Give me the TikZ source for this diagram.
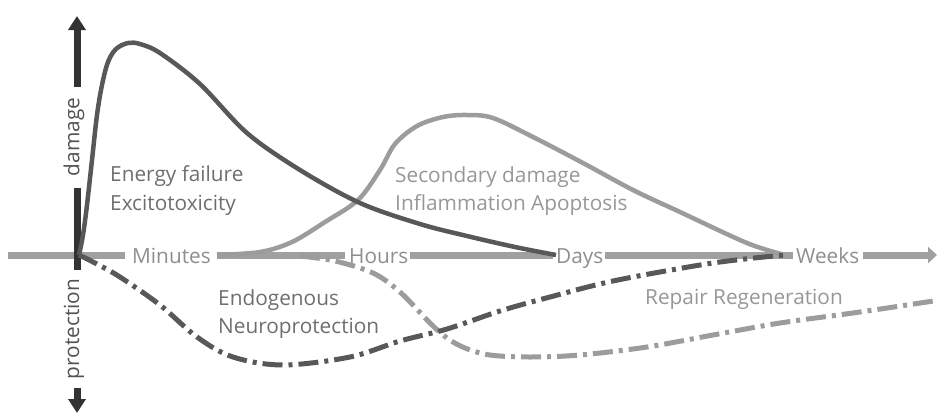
\documentclass[tikz,border=0pt]{standalone}
\usepackage{fontspec}
\setmainfont{Open Sans}
\usetikzlibrary{arrows.meta}
\definecolor{darkc}{HTML}{585858}
\definecolor{lightc}{HTML}{9C9C9C}
\definecolor{axisd}{HTML}{333333}
\definecolor{axisl}{HTML}{A0A0A0}
\definecolor{txtd}{HTML}{6E6E6E}
\definecolor{txtl}{HTML}{979797}
\definecolor{txtt}{HTML}{8E8E8E}
\begin{document}
\begin{tikzpicture}[x=1pt,y=-1pt,
  lbl/.style={inner sep=0pt,anchor=base west,font=\fontsize{20.8}{23}\selectfont},
  tlabel/.style={inner sep=0pt,font=\fontsize{20.8}{23}\selectfont,text=txtt},
  vlabel/.style={inner sep=0pt,rotate=90,font=\fontsize{20.8}{23}\selectfont,text=axisd!85},
  haxis/.style={draw=axisl,line width=7pt},
  vaxis/.style={draw=axisd,line width=7pt},
  solidc/.style={line width=4.5pt,line join=round},
  dashc/.style={line width=5pt,dash pattern=on 20pt off 6pt on 4pt off 6pt}]
\useasboundingbox (0,0) rectangle (937,413);
% time labels on horizontal axis
\node[tlabel,anchor=base west] (min) at (132,263) {Minutes};
\node[tlabel,anchor=base west] (hrs) at (349,263) {Hours};
\node[tlabel,anchor=base west] (days) at (556,263) {Days};
\node[tlabel,anchor=base west] (wks) at (796,263) {Weeks};
\coordinate (hstart) at (8,255);
\coordinate (hend) at (937,255);
% horizontal axis segments
\draw[haxis] (hstart) -- (125,255);
\draw[haxis] (217,255) -- (345,255);
\draw[haxis] (410,255) -- (553,255);
\draw[haxis] (605,255) -- (793,255);
\draw[haxis,-{Triangle[length=9pt,width=16pt]}] (863,255) -- (hend);
% vertical axis
\node[vlabel] (dmg) at (74,137) {damage};
\node[vlabel] (prot) at (74,329) {protection};
\coordinate (vtop) at (77,16);
\coordinate (vbot) at (77,413);
\draw[vaxis,-{Triangle[length=14pt,width=17pt]}] (77,87) -- (vtop);
\draw[vaxis] (77,188) -- (77,270);
\draw[vaxis,-{Triangle[length=14pt,width=17pt]}] (77,388) -- (vbot);
% secondary damage curve
\draw[solidc,draw=lightc] plot[smooth,tension=0.55] coordinates {(217,255) (260,252) (292,242) (325,222) (358,200) (380,170) (395,144) (417,126) (443,117) (467,115) (493,118) (533,137) (583,163) (633,190) (680,212) (747,243) (785,255)};
% energy failure curve
\draw[solidc,draw=darkc] plot[smooth,tension=0.55] coordinates {(79,255) (83,235) (87,205) (92,160) (97,115) (102,85) (108,62) (116,49) (128,43) (140,44) (160,53) (200,84) (247,133) (300,170) (360,203) (420,224) (467,236) (515,247) (556,255)};
% repair regeneration
\draw[dashc,draw=lightc] plot[smooth,tension=0.55] coordinates {(300,256) (335,261) (373,273) (400,292) (430,323) (447,338) (465,348) (490,355) (530,357) (580,355) (647,347) (713,335) (780,323) (860,312) (940,300)};
% endogenous neuroprotection
\draw[dashc,draw=darkc] plot[smooth,tension=0.55] coordinates {(79,255) (95,263) (120,277) (160,305) (197,337) (233,357) (283,365) (350,357) (400,341) (447,329) (500,311) (550,297) (613,281) (700,265) (745,259) (785,255)};
% text labels
\node[lbl,text=txtd] (ef) at (110,181) {Energy failure};
\node[lbl,text=txtd] (ex) at (110,210) {Excitotoxicity};
\node[lbl,text=txtl] (sd) at (395,182) {Secondary damage};
\node[lbl,text=txtl] (ia) at (395,210) {Inflammation Apoptosis};
\node[lbl,text=txtd] (en) at (218,305) {Endogenous};
\node[lbl,text=txtd] (np) at (218,333) {Neuroprotection};
\node[lbl,text=txtl] (rr) at (645,304) {Repair Regeneration};
\end{tikzpicture}
\end{document}
